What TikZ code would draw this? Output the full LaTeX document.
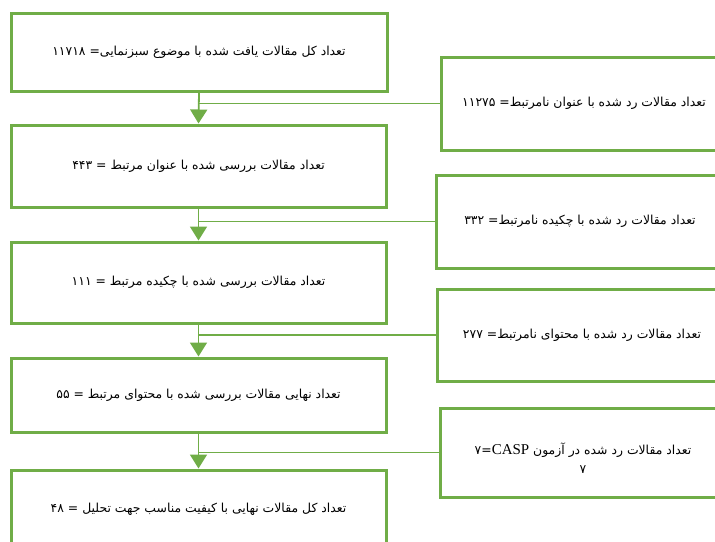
\documentclass[tikz,border=0pt]{standalone}
\usepackage{fontspec}
\setmainfont{Liberation Serif}
\newfontfamily\arabicfont[Script=Arabic]{DejaVu Sans}
\TeXXeTstate=1
\usetikzlibrary{arrows.meta}
\definecolor{gr}{HTML}{70AD47}
\newcommand\fa[1]{\beginR #1\endR}
\begin{document}
\begin{tikzpicture}[x=1pt,y={(0pt,-1pt)},
  box/.style={draw=gr, line width=3pt, fill=white, inner sep=0pt, align=center,
    font=\arabicfont\fontsize{12.4}{19}\selectfont},
  txt/.style={inner sep=0pt, align=center, font=\arabicfont\fontsize{12.4}{19}\selectfont},
  flow/.style={draw=gr, line width=1.8pt, -{Triangle[width=17pt,length=14pt]}},
  side/.style={draw=gr, line width=1.2pt}]
\useasboundingbox (0,0) rectangle (715,541);
\clip (0,0) rectangle (715,541);
\node[box, minimum width=376pt, minimum height=78pt] (b1) at (199,52)
  {\fa{تعداد کل مقالات یافت شده با موضوع سبزنمایی\hbox{=} ۱۱۷۱۸}};
\node[box, minimum width=375pt, minimum height=82pt] (b2) at (198.5,166)
  {\fa{تعداد مقالات بررسی شده با عنوان مرتبط = ۴۴۳}};
\node[box, minimum width=375pt, minimum height=81pt] (b3) at (198.5,282.5)
  {\fa{تعداد مقالات بررسی شده با چکیده مرتبط = ۱۱۱}};
\node[box, minimum width=375pt, minimum height=74pt] (b4) at (198.5,395)
  {\fa{تعداد نهایی مقالات بررسی شده با محتوای مرتبط = ۵۵}};
\node[box, minimum width=375pt, minimum height=78pt] (b5) at (198.5,509)
  {\fa{تعداد کل مقالات نهایی با کیفیت مناسب جهت تحلیل = ۴۸}};
\node[box, minimum width=286pt, minimum height=93pt] (r1) at (584,103.5)
  {\fa{تعداد مقالات رد شده با عنوان نامرتبط\hbox{=} ۱۱۲۷۵}};
\node[box, minimum width=288pt, minimum height=93pt] (r2) at (580,221.5)
  {\fa{تعداد مقالات رد شده با چکیده نامرتبط\hbox{=} ۳۳۲}};
\node[box, minimum width=290pt, minimum height=92pt] (r3) at (582,335)
  {\fa{تعداد مقالات رد شده با محتوای نامرتبط\hbox{=} ۲۷۷}};
\node[box, minimum width=286pt, minimum height=89pt] (r4) at (583,452.5) {};
\node[txt] (r4t) at (583,458)
  {\fa{تعداد مقالات رد شده در آزمون \hbox{\rmfamily\fontsize{15}{16}\selectfont CASP}\hbox{=}\hbox{۷}}\\ \fa{۷}};
\draw[side] (r1.west) -- (r1.west -| b1.south);
\draw[side] (r2.west) -- (r2.west -| b2.south);
\draw[side] (r3.west) -- (r3.west -| b3.south);
\draw[side] (r4.west) -- (r4.west -| b4.south);
\draw[flow] (b1.south) -- (b2.north);
\draw[flow] (b2.south) -- (b3.north);
\draw[flow] (b3.south) -- (b4.north);
\draw[flow] (b4.south) -- (b5.north);
\end{tikzpicture}
\end{document}
